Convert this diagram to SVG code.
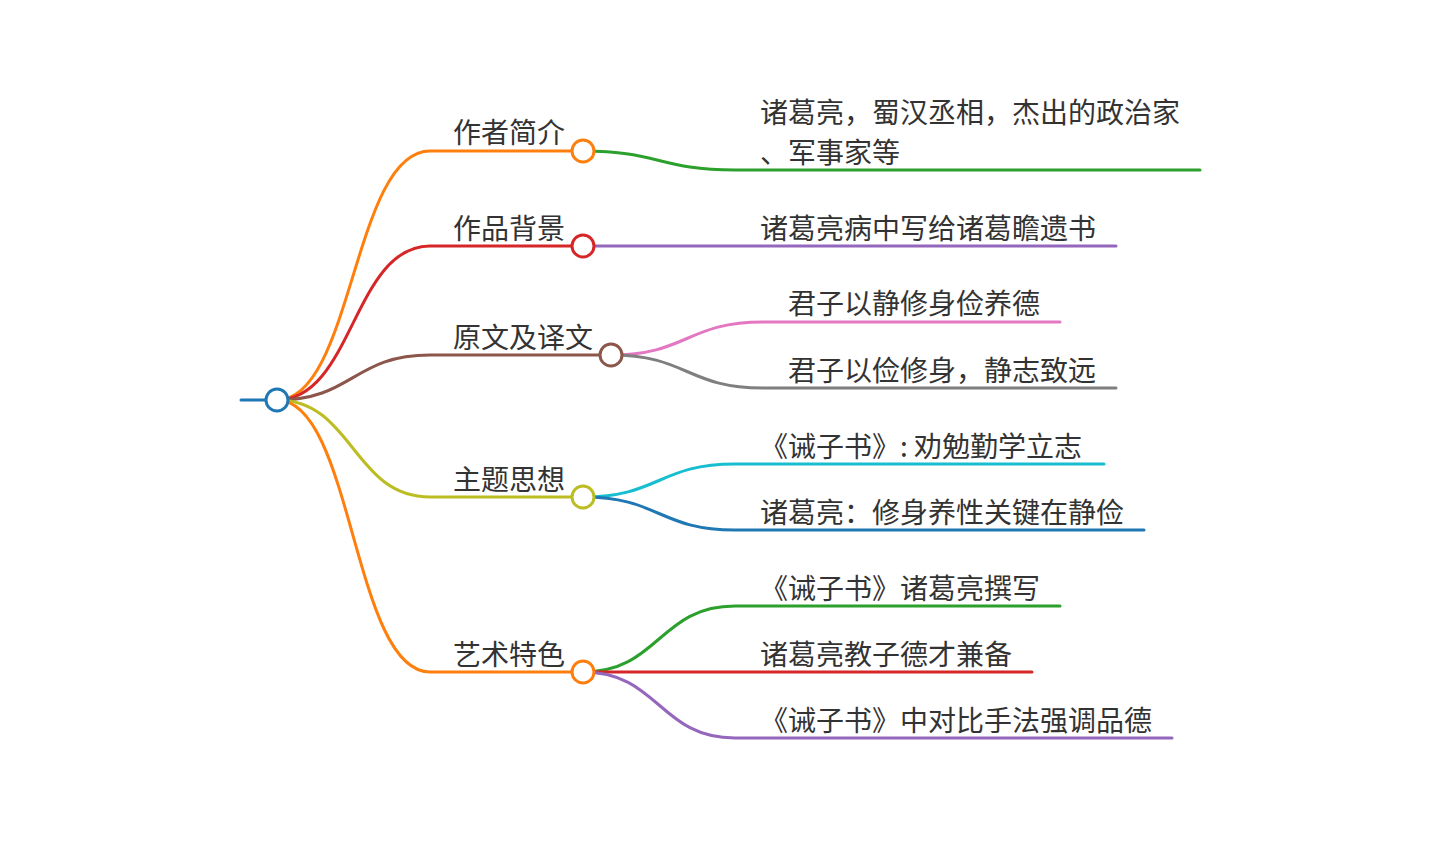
<svg xmlns="http://www.w3.org/2000/svg" width="1440" height="845" viewBox="0 0 1440 845">
<style>
.l{fill:none;stroke-width:3;stroke-linecap:round}
.c{fill:#fff;stroke-width:3}
.t{font-family:"Noto Sans CJK SC","Noto Sans",sans-serif;font-size:28px;fill:#333}
</style>
<rect width="1440" height="845" fill="#fff"/>
<g id="connectors">
<path class="l" stroke="#1f77b4" d="M241,400 L277,400"/>
<path class="l" stroke="#ff7f0e" d="M277,400 C353,400 353,151 430,151 L583,151"/>
<path class="l" stroke="#d62728" d="M277,400 C353,400 353,246 430,246 L583,246"/>
<path class="l" stroke="#8c564b" d="M277,400 C353,400 353,355 430,355 L611,355"/>
<path class="l" stroke="#bcbd22" d="M277,400 C353,400 353,497 430,497 L583,497"/>
<path class="l" stroke="#ff7f0e" d="M277,400 C353,400 353,672 430,672 L583,672"/>
<path class="l" stroke="#2ca02c" d="M583,151 C659,151 659,170 735,170 L1200,170"/>
<path class="l" stroke="#9467bd" d="M583,246 L1116,246"/>
<path class="l" stroke="#e377c2" d="M611,355 C687,355 687,322 763,322 L1060,322"/>
<path class="l" stroke="#7f7f7f" d="M611,355 C687,355 687,388 763,388 L1116,388"/>
<path class="l" stroke="#17becf" d="M583,497 C659,497 659,464 735,464 L1104,464"/>
<path class="l" stroke="#1f77b4" d="M583,497 C659,497 659,530 735,530 L1144,530"/>
<path class="l" stroke="#2ca02c" d="M583,672 C659,672 659,606 735,606 L1060,606"/>
<path class="l" stroke="#d62728" d="M583,672 L1032,672"/>
<path class="l" stroke="#9467bd" d="M583,672 C659,672 659,738 735,738 L1172,738"/>
</g>
<g id="root"><circle class="c" stroke="#1f77b4" cx="277" cy="400" r="11"/></g>
<g id="n1"><text class="t" x="453" y="143">作者简介</text><circle class="c" stroke="#ff7f0e" cx="583" cy="151" r="11"/></g>
<g id="n2"><text class="t" x="453" y="239">作品背景</text><circle class="c" stroke="#d62728" cx="583" cy="246" r="11"/></g>
<g id="n3"><text class="t" x="453" y="348">原文及译文</text><circle class="c" stroke="#8c564b" cx="611" cy="355" r="11"/></g>
<g id="n4"><text class="t" x="453" y="490">主题思想</text><circle class="c" stroke="#bcbd22" cx="583" cy="497" r="11"/></g>
<g id="n5"><text class="t" x="453" y="665">艺术特色</text><circle class="c" stroke="#ff7f0e" cx="583" cy="672" r="11"/></g>
<g id="n1a"><text class="t" x="760" y="123">诸葛亮，蜀汉丞相，杰出的政治家</text><text class="t" x="760" y="163">、军事家等</text></g>
<g id="n2a"><text class="t" x="760" y="239">诸葛亮病中写给诸葛瞻遗书</text></g>
<g id="n3a"><text class="t" x="788" y="314">君子以静修身俭养德</text></g>
<g id="n3b"><text class="t" x="788" y="381">君子以俭修身，静志致远</text></g>
<g id="n4a"><text class="t" x="760" y="457" xml:space="preserve">《诫子书》: 劝勉勤学立志</text></g>
<g id="n4b"><text class="t" x="760" y="523">诸葛亮：修身养性关键在静俭</text></g>
<g id="n5a"><text class="t" x="760" y="599">《诫子书》诸葛亮撰写</text></g>
<g id="n5b"><text class="t" x="760" y="665">诸葛亮教子德才兼备</text></g>
<g id="n5c"><text class="t" x="760" y="731">《诫子书》中对比手法强调品德</text></g>
</svg>
